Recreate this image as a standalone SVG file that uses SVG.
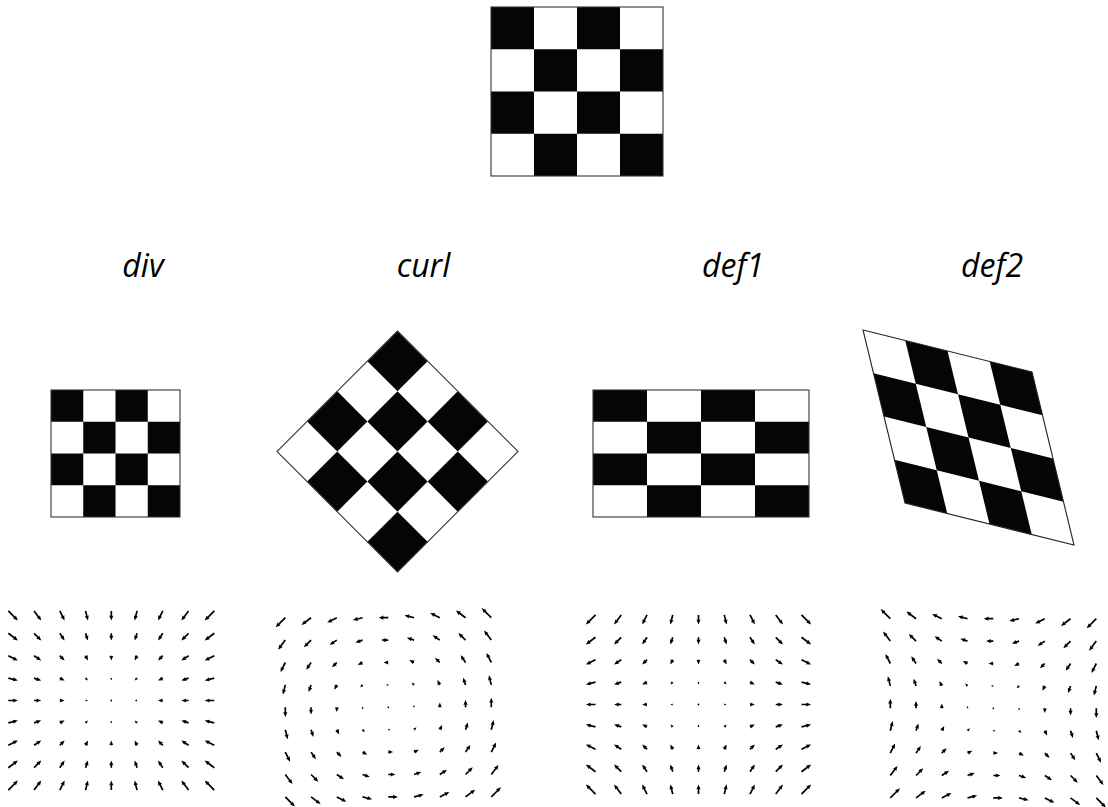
<svg xmlns="http://www.w3.org/2000/svg" width="1108" height="807" viewBox="0 0 1108 807">
<style>
.k{fill:#050505}
.bd{fill:none;stroke:#333;stroke-width:1.1}
.lbl{font-family:"Open Sans","Noto Sans",sans-serif;font-style:italic;font-size:32px;fill:#000;text-anchor:middle}
</style>
<defs>
<path id="a5" d="M0,-.85H.5L0,-2.1L5,0L0,2.1L.5,.85H0Z"/>
<use id="L1" href="#a5" transform="scale(.48)"/>
<use id="L2" href="#a5" transform="scale(.679)"/>
<use id="L3" href="#a5" transform="scale(.96)"/>
<path id="L4" d="M0,-.85H.867L.367,-2.1L5.367,0L.367,2.1L.867,.85H0Z"/>
<path id="L5" d="M0,-.85H2.288L1.788,-2.1L6.788,0L1.788,2.1L2.288,.85H0Z"/>
<path id="L6" d="M0,-.85H2.7L2.2,-2.1L7.2,0L2.2,2.1L2.7,.85H0Z"/>
<path id="L7" d="M0,-.85H3.089L2.589,-2.1L7.589,0L2.589,2.1L3.089,.85H0Z"/>
<path id="L8" d="M0,-.85H4.153L3.653,-2.1L8.653,0L3.653,2.1L4.153,.85H0Z"/>
<path id="L9" d="M0,-.85H5.1L4.6,-2.1L9.6,0L4.6,2.1L5.1,.85H0Z"/>
<path id="L10" d="M0,-.85H5.395L4.895,-2.1L9.895,0L4.895,2.1L5.395,.85H0Z"/>
<path id="L11" d="M0,-.85H5.682L5.182,-2.1L10.182,0L5.182,2.1L5.682,.85H0Z"/>
<path id="L12" d="M0,-.85H6.233L5.733,-2.1L10.733,0L5.733,2.1L6.233,.85H0Z"/>
<path id="L13" d="M0,-.85H7.5L7,-2.1L12,0L7,2.1L7.5,.85H0Z"/>
<path id="L14" d="M0,-.85H9.076L8.576,-2.1L13.576,0L8.576,2.1L9.076,.85H0Z"/>

<use id="v00" href="#L14" transform="rotate(-135)"/>
<use id="v01" href="#L13" transform="rotate(-143.13)"/>
<use id="v02" href="#L12" transform="rotate(-153.435)"/>
<use id="v03" href="#L10" transform="rotate(-165.964)"/>
<use id="v04" href="#L9" transform="rotate(180)"/>
<use id="v05" href="#L10" transform="rotate(165.964)"/>
<use id="v06" href="#L12" transform="rotate(153.435)"/>
<use id="v07" href="#L13" transform="rotate(143.13)"/>
<use id="v08" href="#L14" transform="rotate(135)"/>

<use id="v10" href="#L13" transform="rotate(-126.87)"/>
<use id="v11" href="#L11" transform="rotate(-135)"/>
<use id="v12" href="#L8" transform="rotate(-146.31)"/>
<use id="v13" href="#L7" transform="rotate(-161.565)"/>
<use id="v14" href="#L6" transform="rotate(180)"/>
<use id="v15" href="#L7" transform="rotate(161.565)"/>
<use id="v16" href="#L8" transform="rotate(146.31)"/>
<use id="v17" href="#L11" transform="rotate(135)"/>
<use id="v18" href="#L13" transform="rotate(126.87)"/>

<use id="v20" href="#L12" transform="rotate(-116.565)"/>
<use id="v21" href="#L8" transform="rotate(-123.69)"/>
<use id="v22" href="#L5" transform="rotate(-135)"/>
<use id="v23" href="#L4" transform="rotate(-153.435)"/>
<use id="v24" href="#L3" transform="rotate(180)"/>
<use id="v25" href="#L4" transform="rotate(153.435)"/>
<use id="v26" href="#L5" transform="rotate(135)"/>
<use id="v27" href="#L8" transform="rotate(123.69)"/>
<use id="v28" href="#L12" transform="rotate(116.565)"/>

<use id="v30" href="#L10" transform="rotate(-104.036)"/>
<use id="v31" href="#L7" transform="rotate(-108.435)"/>
<use id="v32" href="#L4" transform="rotate(-116.565)"/>
<use id="v33" href="#L2" transform="rotate(-135)"/>
<use id="v34" href="#L1" transform="rotate(180)"/>
<use id="v35" href="#L2" transform="rotate(135)"/>
<use id="v36" href="#L4" transform="rotate(116.565)"/>
<use id="v37" href="#L7" transform="rotate(108.435)"/>
<use id="v38" href="#L10" transform="rotate(104.036)"/>

<use id="v40" href="#L9" transform="rotate(-90)"/>
<use id="v41" href="#L6" transform="rotate(-90)"/>
<use id="v42" href="#L3" transform="rotate(-90)"/>
<use id="v43" href="#L1" transform="rotate(-90)"/>
<circle id="v44" r="0.9"/>
<use id="v45" href="#L1" transform="rotate(90)"/>
<use id="v46" href="#L3" transform="rotate(90)"/>
<use id="v47" href="#L6" transform="rotate(90)"/>
<use id="v48" href="#L9" transform="rotate(90)"/>

<use id="v50" href="#L10" transform="rotate(-75.964)"/>
<use id="v51" href="#L7" transform="rotate(-71.565)"/>
<use id="v52" href="#L4" transform="rotate(-63.435)"/>
<use id="v53" href="#L2" transform="rotate(-45)"/>
<use id="v54" href="#L1"/>
<use id="v55" href="#L2" transform="rotate(45)"/>
<use id="v56" href="#L4" transform="rotate(63.435)"/>
<use id="v57" href="#L7" transform="rotate(71.565)"/>
<use id="v58" href="#L10" transform="rotate(75.964)"/>

<use id="v60" href="#L12" transform="rotate(-63.435)"/>
<use id="v61" href="#L8" transform="rotate(-56.31)"/>
<use id="v62" href="#L5" transform="rotate(-45)"/>
<use id="v63" href="#L4" transform="rotate(-26.565)"/>
<use id="v64" href="#L3"/>
<use id="v65" href="#L4" transform="rotate(26.565)"/>
<use id="v66" href="#L5" transform="rotate(45)"/>
<use id="v67" href="#L8" transform="rotate(56.31)"/>
<use id="v68" href="#L12" transform="rotate(63.435)"/>

<use id="v70" href="#L13" transform="rotate(-53.13)"/>
<use id="v71" href="#L11" transform="rotate(-45)"/>
<use id="v72" href="#L8" transform="rotate(-33.69)"/>
<use id="v73" href="#L7" transform="rotate(-18.435)"/>
<use id="v74" href="#L6"/>
<use id="v75" href="#L7" transform="rotate(18.435)"/>
<use id="v76" href="#L8" transform="rotate(33.69)"/>
<use id="v77" href="#L11" transform="rotate(45)"/>
<use id="v78" href="#L13" transform="rotate(53.13)"/>

<use id="v80" href="#L14" transform="rotate(-45)"/>
<use id="v81" href="#L13" transform="rotate(-36.87)"/>
<use id="v82" href="#L12" transform="rotate(-26.565)"/>
<use id="v83" href="#L10" transform="rotate(-14.036)"/>
<use id="v84" href="#L9"/>
<use id="v85" href="#L10" transform="rotate(14.036)"/>
<use id="v86" href="#L12" transform="rotate(26.565)"/>
<use id="v87" href="#L13" transform="rotate(36.87)"/>
<use id="v88" href="#L14" transform="rotate(45)"/>
</defs>
<rect width="1108" height="807" fill="#fff"/>

<g id="board-original">
<rect x="491" y="7" width="172" height="169" fill="#fff"/>
<rect class="k" x="491" y="7" width="43" height="42.25"/><rect class="k" x="577" y="7" width="43" height="42.25"/>
<rect class="k" x="534" y="49.25" width="43" height="42.25"/><rect class="k" x="620" y="49.25" width="43" height="42.25"/>
<rect class="k" x="491" y="91.5" width="43" height="42.25"/><rect class="k" x="577" y="91.5" width="43" height="42.25"/>
<rect class="k" x="534" y="133.75" width="43" height="42.25"/><rect class="k" x="620" y="133.75" width="43" height="42.25"/>
<rect class="bd" x="491" y="7" width="172" height="169"/>
</g>

<g id="label-div"><text class="lbl" x="143" y="277">div</text></g>
<g id="label-curl"><text class="lbl" x="423.5" y="277">curl</text></g>
<g id="label-def1"><text class="lbl" x="733" y="277">def1</text></g>
<g id="label-def2"><text class="lbl" x="992" y="277">def2</text></g>

<g id="board-div">
<rect x="51" y="390" width="129" height="127" fill="#fff"/>
<rect class="k" x="51" y="390" width="32.25" height="31.75"/><rect class="k" x="115.5" y="390" width="32.25" height="31.75"/>
<rect class="k" x="83.25" y="421.75" width="32.25" height="31.75"/><rect class="k" x="147.75" y="421.75" width="32.25" height="31.75"/>
<rect class="k" x="51" y="453.5" width="32.25" height="31.75"/><rect class="k" x="115.5" y="453.5" width="32.25" height="31.75"/>
<rect class="k" x="83.25" y="485.25" width="32.25" height="31.75"/><rect class="k" x="147.75" y="485.25" width="32.25" height="31.75"/>
<rect class="bd" x="51" y="390" width="129" height="127"/>
</g>

<g id="board-curl" transform="translate(397.5,451.5) rotate(45)">
<rect x="-85.2" y="-85.2" width="170.4" height="170.4" fill="#fff"/>
<rect class="k" x="-85.2" y="-85.2" width="42.6" height="42.6"/><rect class="k" x="0" y="-85.2" width="42.6" height="42.6"/>
<rect class="k" x="-42.6" y="-42.6" width="42.6" height="42.6"/><rect class="k" x="42.6" y="-42.6" width="42.6" height="42.6"/>
<rect class="k" x="-85.2" y="0" width="42.6" height="42.6"/><rect class="k" x="0" y="0" width="42.6" height="42.6"/>
<rect class="k" x="-42.6" y="42.6" width="42.6" height="42.6"/><rect class="k" x="42.6" y="42.6" width="42.6" height="42.6"/>
<rect class="bd" x="-85.2" y="-85.2" width="170.4" height="170.4"/>
</g>

<g id="board-def1">
<rect x="593" y="390" width="216" height="127" fill="#fff"/>
<rect class="k" x="593" y="390" width="54" height="31.75"/><rect class="k" x="701" y="390" width="54" height="31.75"/>
<rect class="k" x="647" y="421.75" width="54" height="31.75"/><rect class="k" x="755" y="421.75" width="54" height="31.75"/>
<rect class="k" x="593" y="453.5" width="54" height="31.75"/><rect class="k" x="701" y="453.5" width="54" height="31.75"/>
<rect class="k" x="647" y="485.25" width="54" height="31.75"/><rect class="k" x="755" y="485.25" width="54" height="31.75"/>
<rect class="bd" x="593" y="390" width="216" height="127"/>
</g>

<g id="board-def2" transform="matrix(42.25 10.5 10.5 43.25 863 330)">
<rect x="0" y="0" width="4" height="4" fill="#fff"/>
<rect class="k" x="1" y="0" width="1" height="1"/><rect class="k" x="3" y="0" width="1" height="1"/>
<rect class="k" x="0" y="1" width="1" height="1"/><rect class="k" x="2" y="1" width="1" height="1"/>
<rect class="k" x="1" y="2" width="1" height="1"/><rect class="k" x="3" y="2" width="1" height="1"/>
<rect class="k" x="0" y="3" width="1" height="1"/><rect class="k" x="2" y="3" width="1" height="1"/>
<rect x="0" y="0" width="4" height="4" fill="none" stroke="#222" stroke-width="1.1" vector-effect="non-scaling-stroke"/>
</g>

<g id="field-div" transform="translate(8.3,610.9)" fill="#000">
<g><use href="#v88" x="0"/><use href="#v78" x="25.75"/><use href="#v68" x="51.5"/><use href="#v58" x="77.25"/><use href="#v48" x="103"/><use href="#v38" x="128.75"/><use href="#v28" x="154.5"/><use href="#v18" x="180.25"/><use href="#v08" x="206"/></g>
<g transform="translate(0,22.4)"><use href="#v87" x="0"/><use href="#v77" x="25.75"/><use href="#v67" x="51.5"/><use href="#v57" x="77.25"/><use href="#v47" x="103"/><use href="#v37" x="128.75"/><use href="#v27" x="154.5"/><use href="#v17" x="180.25"/><use href="#v07" x="206"/></g>
<g transform="translate(0,44.8)"><use href="#v86" x="0"/><use href="#v76" x="25.75"/><use href="#v66" x="51.5"/><use href="#v56" x="77.25"/><use href="#v46" x="103"/><use href="#v36" x="128.75"/><use href="#v26" x="154.5"/><use href="#v16" x="180.25"/><use href="#v06" x="206"/></g>
<g transform="translate(0,67.2)"><use href="#v85" x="0"/><use href="#v75" x="25.75"/><use href="#v65" x="51.5"/><use href="#v55" x="77.25"/><use href="#v45" x="103"/><use href="#v35" x="128.75"/><use href="#v25" x="154.5"/><use href="#v15" x="180.25"/><use href="#v05" x="206"/></g>
<g transform="translate(0,89.6)"><use href="#v84" x="0"/><use href="#v74" x="25.75"/><use href="#v64" x="51.5"/><use href="#v54" x="77.25"/><use href="#v44" x="103"/><use href="#v34" x="128.75"/><use href="#v24" x="154.5"/><use href="#v14" x="180.25"/><use href="#v04" x="206"/></g>
<g transform="translate(0,112)"><use href="#v83" x="0"/><use href="#v73" x="25.75"/><use href="#v63" x="51.5"/><use href="#v53" x="77.25"/><use href="#v43" x="103"/><use href="#v33" x="128.75"/><use href="#v23" x="154.5"/><use href="#v13" x="180.25"/><use href="#v03" x="206"/></g>
<g transform="translate(0,134.4)"><use href="#v82" x="0"/><use href="#v72" x="25.75"/><use href="#v62" x="51.5"/><use href="#v52" x="77.25"/><use href="#v42" x="103"/><use href="#v32" x="128.75"/><use href="#v22" x="154.5"/><use href="#v12" x="180.25"/><use href="#v02" x="206"/></g>
<g transform="translate(0,156.8)"><use href="#v81" x="0"/><use href="#v71" x="25.75"/><use href="#v61" x="51.5"/><use href="#v51" x="77.25"/><use href="#v41" x="103"/><use href="#v31" x="128.75"/><use href="#v21" x="154.5"/><use href="#v11" x="180.25"/><use href="#v01" x="206"/></g>
<g transform="translate(0,179.2)"><use href="#v80" x="0"/><use href="#v70" x="25.75"/><use href="#v60" x="51.5"/><use href="#v50" x="77.25"/><use href="#v40" x="103"/><use href="#v30" x="128.75"/><use href="#v20" x="154.5"/><use href="#v10" x="180.25"/><use href="#v00" x="206"/></g>
</g>

<g id="field-curl" transform="translate(285.3,617.7)" fill="#000">
<g><use href="#v08" x="0"/><use href="#v07" x="25.75"/><use href="#v06" x="51.5"/><use href="#v05" x="77.25"/><use href="#v04" x="103"/><use href="#v03" x="128.75"/><use href="#v02" x="154.5"/><use href="#v01" x="180.25"/><use href="#v00" x="206"/></g>
<g transform="translate(0,22.4)"><use href="#v18" x="0"/><use href="#v17" x="25.75"/><use href="#v16" x="51.5"/><use href="#v15" x="77.25"/><use href="#v14" x="103"/><use href="#v13" x="128.75"/><use href="#v12" x="154.5"/><use href="#v11" x="180.25"/><use href="#v10" x="206"/></g>
<g transform="translate(0,44.8)"><use href="#v28" x="0"/><use href="#v27" x="25.75"/><use href="#v26" x="51.5"/><use href="#v25" x="77.25"/><use href="#v24" x="103"/><use href="#v23" x="128.75"/><use href="#v22" x="154.5"/><use href="#v21" x="180.25"/><use href="#v20" x="206"/></g>
<g transform="translate(0,67.2)"><use href="#v38" x="0"/><use href="#v37" x="25.75"/><use href="#v36" x="51.5"/><use href="#v35" x="77.25"/><use href="#v34" x="103"/><use href="#v33" x="128.75"/><use href="#v32" x="154.5"/><use href="#v31" x="180.25"/><use href="#v30" x="206"/></g>
<g transform="translate(0,89.6)"><use href="#v48" x="0"/><use href="#v47" x="25.75"/><use href="#v46" x="51.5"/><use href="#v45" x="77.25"/><use href="#v44" x="103"/><use href="#v43" x="128.75"/><use href="#v42" x="154.5"/><use href="#v41" x="180.25"/><use href="#v40" x="206"/></g>
<g transform="translate(0,112)"><use href="#v58" x="0"/><use href="#v57" x="25.75"/><use href="#v56" x="51.5"/><use href="#v55" x="77.25"/><use href="#v54" x="103"/><use href="#v53" x="128.75"/><use href="#v52" x="154.5"/><use href="#v51" x="180.25"/><use href="#v50" x="206"/></g>
<g transform="translate(0,134.4)"><use href="#v68" x="0"/><use href="#v67" x="25.75"/><use href="#v66" x="51.5"/><use href="#v65" x="77.25"/><use href="#v64" x="103"/><use href="#v63" x="128.75"/><use href="#v62" x="154.5"/><use href="#v61" x="180.25"/><use href="#v60" x="206"/></g>
<g transform="translate(0,156.8)"><use href="#v78" x="0"/><use href="#v77" x="25.75"/><use href="#v76" x="51.5"/><use href="#v75" x="77.25"/><use href="#v74" x="103"/><use href="#v73" x="128.75"/><use href="#v72" x="154.5"/><use href="#v71" x="180.25"/><use href="#v70" x="206"/></g>
<g transform="translate(0,179.2)"><use href="#v88" x="0"/><use href="#v87" x="25.75"/><use href="#v86" x="51.5"/><use href="#v85" x="77.25"/><use href="#v84" x="103"/><use href="#v83" x="128.75"/><use href="#v82" x="154.5"/><use href="#v81" x="180.25"/><use href="#v80" x="206"/></g>
</g>

<g id="field-def1" transform="translate(595.5,614.9)" fill="#000">
<g><use href="#v08" x="0"/><use href="#v18" x="25.75"/><use href="#v28" x="51.5"/><use href="#v38" x="77.25"/><use href="#v48" x="103"/><use href="#v58" x="128.75"/><use href="#v68" x="154.5"/><use href="#v78" x="180.25"/><use href="#v88" x="206"/></g>
<g transform="translate(0,22.4)"><use href="#v07" x="0"/><use href="#v17" x="25.75"/><use href="#v27" x="51.5"/><use href="#v37" x="77.25"/><use href="#v47" x="103"/><use href="#v57" x="128.75"/><use href="#v67" x="154.5"/><use href="#v77" x="180.25"/><use href="#v87" x="206"/></g>
<g transform="translate(0,44.8)"><use href="#v06" x="0"/><use href="#v16" x="25.75"/><use href="#v26" x="51.5"/><use href="#v36" x="77.25"/><use href="#v46" x="103"/><use href="#v56" x="128.75"/><use href="#v66" x="154.5"/><use href="#v76" x="180.25"/><use href="#v86" x="206"/></g>
<g transform="translate(0,67.2)"><use href="#v05" x="0"/><use href="#v15" x="25.75"/><use href="#v25" x="51.5"/><use href="#v35" x="77.25"/><use href="#v45" x="103"/><use href="#v55" x="128.75"/><use href="#v65" x="154.5"/><use href="#v75" x="180.25"/><use href="#v85" x="206"/></g>
<g transform="translate(0,89.6)"><use href="#v04" x="0"/><use href="#v14" x="25.75"/><use href="#v24" x="51.5"/><use href="#v34" x="77.25"/><use href="#v44" x="103"/><use href="#v54" x="128.75"/><use href="#v64" x="154.5"/><use href="#v74" x="180.25"/><use href="#v84" x="206"/></g>
<g transform="translate(0,112)"><use href="#v03" x="0"/><use href="#v13" x="25.75"/><use href="#v23" x="51.5"/><use href="#v33" x="77.25"/><use href="#v43" x="103"/><use href="#v53" x="128.75"/><use href="#v63" x="154.5"/><use href="#v73" x="180.25"/><use href="#v83" x="206"/></g>
<g transform="translate(0,134.4)"><use href="#v02" x="0"/><use href="#v12" x="25.75"/><use href="#v22" x="51.5"/><use href="#v32" x="77.25"/><use href="#v42" x="103"/><use href="#v52" x="128.75"/><use href="#v62" x="154.5"/><use href="#v72" x="180.25"/><use href="#v82" x="206"/></g>
<g transform="translate(0,156.8)"><use href="#v01" x="0"/><use href="#v11" x="25.75"/><use href="#v21" x="51.5"/><use href="#v31" x="77.25"/><use href="#v41" x="103"/><use href="#v51" x="128.75"/><use href="#v61" x="154.5"/><use href="#v71" x="180.25"/><use href="#v81" x="206"/></g>
<g transform="translate(0,179.2)"><use href="#v00" x="0"/><use href="#v10" x="25.75"/><use href="#v20" x="51.5"/><use href="#v30" x="77.25"/><use href="#v40" x="103"/><use href="#v50" x="128.75"/><use href="#v60" x="154.5"/><use href="#v70" x="180.25"/><use href="#v80" x="206"/></g>
</g>

<g id="field-def2" transform="translate(890.3,618.7)" fill="#000">
<g><use href="#v00" x="0"/><use href="#v01" x="25.75"/><use href="#v02" x="51.5"/><use href="#v03" x="77.25"/><use href="#v04" x="103"/><use href="#v05" x="128.75"/><use href="#v06" x="154.5"/><use href="#v07" x="180.25"/><use href="#v08" x="206"/></g>
<g transform="translate(0,22.4)"><use href="#v10" x="0"/><use href="#v11" x="25.75"/><use href="#v12" x="51.5"/><use href="#v13" x="77.25"/><use href="#v14" x="103"/><use href="#v15" x="128.75"/><use href="#v16" x="154.5"/><use href="#v17" x="180.25"/><use href="#v18" x="206"/></g>
<g transform="translate(0,44.8)"><use href="#v20" x="0"/><use href="#v21" x="25.75"/><use href="#v22" x="51.5"/><use href="#v23" x="77.25"/><use href="#v24" x="103"/><use href="#v25" x="128.75"/><use href="#v26" x="154.5"/><use href="#v27" x="180.25"/><use href="#v28" x="206"/></g>
<g transform="translate(0,67.2)"><use href="#v30" x="0"/><use href="#v31" x="25.75"/><use href="#v32" x="51.5"/><use href="#v33" x="77.25"/><use href="#v34" x="103"/><use href="#v35" x="128.75"/><use href="#v36" x="154.5"/><use href="#v37" x="180.25"/><use href="#v38" x="206"/></g>
<g transform="translate(0,89.6)"><use href="#v40" x="0"/><use href="#v41" x="25.75"/><use href="#v42" x="51.5"/><use href="#v43" x="77.25"/><use href="#v44" x="103"/><use href="#v45" x="128.75"/><use href="#v46" x="154.5"/><use href="#v47" x="180.25"/><use href="#v48" x="206"/></g>
<g transform="translate(0,112)"><use href="#v50" x="0"/><use href="#v51" x="25.75"/><use href="#v52" x="51.5"/><use href="#v53" x="77.25"/><use href="#v54" x="103"/><use href="#v55" x="128.75"/><use href="#v56" x="154.5"/><use href="#v57" x="180.25"/><use href="#v58" x="206"/></g>
<g transform="translate(0,134.4)"><use href="#v60" x="0"/><use href="#v61" x="25.75"/><use href="#v62" x="51.5"/><use href="#v63" x="77.25"/><use href="#v64" x="103"/><use href="#v65" x="128.75"/><use href="#v66" x="154.5"/><use href="#v67" x="180.25"/><use href="#v68" x="206"/></g>
<g transform="translate(0,156.8)"><use href="#v70" x="0"/><use href="#v71" x="25.75"/><use href="#v72" x="51.5"/><use href="#v73" x="77.25"/><use href="#v74" x="103"/><use href="#v75" x="128.75"/><use href="#v76" x="154.5"/><use href="#v77" x="180.25"/><use href="#v78" x="206"/></g>
<g transform="translate(0,179.2)"><use href="#v80" x="0"/><use href="#v81" x="25.75"/><use href="#v82" x="51.5"/><use href="#v83" x="77.25"/><use href="#v84" x="103"/><use href="#v85" x="128.75"/><use href="#v86" x="154.5"/><use href="#v87" x="180.25"/><use href="#v88" x="206"/></g>
</g>
</svg>
